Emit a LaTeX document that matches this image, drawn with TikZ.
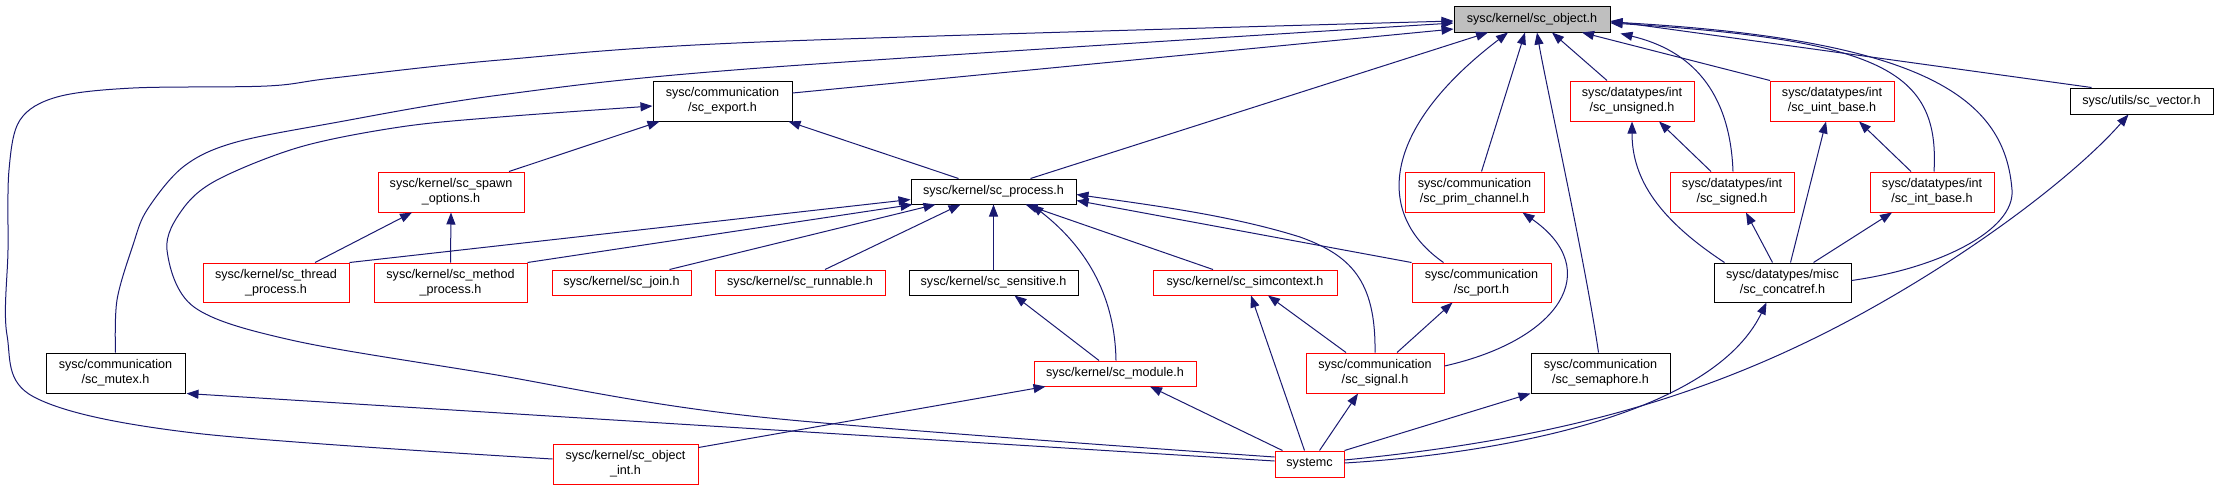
\documentclass[tikz,border=0pt]{standalone}
\usepackage{fontspec}
\setmainfont{Liberation Sans}
\usetikzlibrary{arrows.meta,calc}
\definecolor{edgeblue}{HTML}{191970}
\definecolor{boxred}{HTML}{FF0000}
\definecolor{objgray}{HTML}{BFBFBF}
\begin{document}
\begin{tikzpicture}[x=1pt,y=-1pt,
  box/.style={draw, line width=1pt, inner sep=0pt, align=center, fill=white, font=\fontsize{12.6}{15}\selectfont},
  rbox/.style={box, draw=boxred},
  kbox/.style={box, draw=black},
  gbox/.style={box, draw=black, fill=objgray},
  sz/.style 2 args={minimum width=#1pt, minimum height=#2pt},
  edge/.style={draw=edgeblue, line width=1pt, -{Triangle[length=12pt,width=9pt]}}]
\useasboundingbox (0,0) rectangle (2218,491);
% nodes
\node[gbox, sz={156}{26}] (obj) at (1532,19) {sysc/kernel/sc\_object.h};
\node[kbox, sz={139}{40}] (export) at (722.5,101) {sysc/communication\\/sc\_export.h};
\node[rbox, sz={146}{40}] (spawn) at (451,192) {sysc/kernel/sc\_spawn\\\_options.h};
\node[kbox, sz={165}{25}] (process) at (993.5,191.5) {sysc/kernel/sc\_process.h};
\node[rbox, sz={139}{40}] (prim) at (1474.5,192) {sysc/communication\\/sc\_prim\_channel.h};
\node[rbox, sz={124}{40}] (unsigned) at (1632,101) {sysc/datatypes/int\\/sc\_unsigned.h};
\node[rbox, sz={124}{40}] (uintbase) at (1832,101) {sysc/datatypes/int\\/sc\_uint\_base.h};
\node[kbox, sz={143}{26}] (vector) at (2141.5,101) {sysc/utils/sc\_vector.h};
\node[rbox, sz={124}{40}] (signed) at (1732,192) {sysc/datatypes/int\\/sc\_signed.h};
\node[rbox, sz={124}{40}] (intbase) at (1932,192) {sysc/datatypes/int\\/sc\_int\_base.h};
\node[rbox, sz={146}{39}] (thread) at (276,282.5) {sysc/kernel/sc\_thread\\\_process.h};
\node[rbox, sz={153}{39}] (method) at (450.5,282.5) {sysc/kernel/sc\_method\\\_process.h};
\node[rbox, sz={139}{25}] (join) at (621.5,282.5) {sysc/kernel/sc\_join.h};
\node[rbox, sz={170}{25}] (runnable) at (800,282.5) {sysc/kernel/sc\_runnable.h};
\node[kbox, sz={169}{25}] (sensitive) at (993.5,282.5) {sysc/kernel/sc\_sensitive.h};
\node[rbox, sz={184}{25}] (simcontext) at (1245,282.5) {sysc/kernel/sc\_simcontext.h};
\node[rbox, sz={139}{39}] (port) at (1481.5,282.5) {sysc/communication\\/sc\_port.h};
\node[kbox, sz={137}{39}] (concatref) at (1782.5,282.5) {sysc/datatypes/misc\\/sc\_concatref.h};
\node[kbox, sz={139}{40}] (mutex) at (115.5,373) {sysc/communication\\/sc\_mutex.h};
\node[rbox, sz={162}{25}] (module) at (1115,373.5) {sysc/kernel/sc\_module.h};
\node[rbox, sz={138}{40}] (signal) at (1375,373) {sysc/communication\\/sc\_signal.h};
\node[kbox, sz={139}{40}] (semaphore) at (1600.5,373) {sysc/communication\\/sc\_semaphore.h};
\node[rbox, sz={145}{40}] (objint) at (625.5,464) {sysc/kernel/sc\_object\\\_int.h};
\node[rbox, sz={69}{26}] (systemc) at (1309.5,464) {systemc};
% edges into sc_object.h
\draw[edge] plot[smooth, tension=0.55] coordinates {($(objint.west)+(0,-5)$) (194,433) (34,397) (7,335) (8,250) (9,170) (20,120) (57,97) (133,88) (267,86) (333,78) (500,60) (760,42) ($(obj.west)+(0,2)$)};
\draw[edge] plot[smooth, tension=0.55] coordinates {(mutex.north) (117,300) (133,245) (147,210) (183,167) (233,143) (333,123) (500,95) (760,68) ($(obj.west)+(0,4)$)};
\draw[edge] ($(export.east)+(0,-8)$) -- ($(obj.west)+(0,10)$);
\draw[edge] ($(process.north)+(37,0)$) -- ($(obj.south)+(-44,0)$);
\draw[edge] ($(port.north)+(-38,0)$) .. controls (1375,215) and (1380,130) .. ($(obj.south)+(-24,0)$);
\draw[edge] ($(prim.north)+(7,0)$) -- ($(obj.south)+(-7,0)$);
\draw[edge] ($(semaphore.north)+(-2,0)$) .. controls (1585,260) and (1545,80) .. ($(obj.south)+(5,0)$);
\draw[edge] ($(unsigned.north)+(-25,0)$) -- ($(obj.south)+(20,0)$);
\draw[edge] ($(uintbase.north)+(-62,0)$) -- ($(obj.south)+(50,0)$);
\draw[edge] ($(signed.north)+(1,0)$) .. controls (1730,90) and (1690,50) .. ($(obj.south east)+(10,1)$);
\draw[edge] ($(intbase.north)+(2,0)$) .. controls (1940,70) and (1880,40) .. ($(obj.east)+(0,4)$);
\draw[edge] ($(concatref.east)+(0,-2)$) .. controls (1940,268) and (2015,230) .. (2012,190) .. controls (2005,100) and (1930,40) .. ($(obj.east)+(0,3)$);
\draw[edge] ($(vector.north)+(-50,0)$) -- ($(obj.east)+(0,2)$);
% edges into sc_export.h
\draw[edge] ($(spawn.north)+(58,0)$) -- ($(export.south)+(-63,0)$);
\draw[edge] ($(process.north)+(-35,0)$) -- ($(export.south)+(66,0)$);
\draw[edge] plot[smooth, tension=0.55] coordinates {($(systemc.west)+(0,-7)$) (760,417) (485,373) (291,340) (194,307) (167,250) (182,210) (217,180) (300,147) (400,127) (500,117) ($(export.west)+(0,5)$)};
% edges into sc_spawn_options.h
\draw[edge] ($(thread.north)+(39,0)$) -- ($(spawn.south)+(-39,0)$);
\draw[edge] (method.north) -- (spawn.south);
% edges into sc_process.h
\draw[edge] (thread.north east) -- ($(process.south west)+(0,-5)$);
\draw[edge] (method.north east) -- ($(process.south west)+(2,0)$);
\draw[edge] ($(join.north)+(48,0)$) -- ($(process.south)+(-58,0)$);
\draw[edge] ($(runnable.north)+(25,0)$) -- ($(process.south)+(-33,0)$);
\draw[edge] (sensitive.north) -- (process.south);
\draw[edge] ($(module.north)+(1,0)$) .. controls (1115,300) and (1090,250) .. ($(process.south)+(38,0)$);
\draw[edge] ($(simcontext.north)+(-32,0)$) -- ($(process.south)+(32,0)$);
\draw[edge] (port.north west) -- ($(process.east)+(0,9)$);
\draw[edge] (signal.north) .. controls (1376,280) and (1350,255) .. (1300,237) .. controls (1230,215) and (1150,205) .. ($(process.east)+(0,3)$);
% other edges
\draw[edge] ($(signal.east)+(0,-7)$) .. controls (1560,340) and (1605,270) .. ($(prim.south)+(48,0)$);
\draw[edge] ($(signal.north)+(22,0)$) -- ($(port.south)+(-29,0)$);
\draw[edge] ($(signal.north)+(-29,0)$) -- ($(simcontext.south)+(23,0)$);
\draw[edge] ($(systemc.north)+(-5,0)$) -- ($(simcontext.south)+(6,0)$);
\draw[edge] ($(module.north)+(-16,0)$) -- ($(sensitive.south)+(21,0)$);
\draw[edge] ($(objint.north east)+(0,4)$) -- ($(module.south west)+(12,0)$);
\draw[edge] ($(systemc.north west)+(8,0)$) -- ($(module.south)+(35,0)$);
\draw[edge] ($(systemc.north)+(10,0)$) -- ($(signal.south)+(-17,0)$);
\draw[edge] ($(systemc.west)+(0,-3)$) -- ($(mutex.south east)+(1,0)$);
\draw[edge] (systemc.north east) -- (semaphore.south west);
\draw[edge] ($(systemc.east)+(0,-1)$) .. controls (1480,455) and (1710,420) .. ($(concatref.south)+(-16,0)$);
\draw[edge] ($(systemc.east)+(0,-4)$) .. controls (1550,440) and (1700,400) .. (1850,320) .. controls (1980,250) and (2080,170) .. ($(vector.south)+(-13,0)$);
\draw[edge] ($(signed.north)+(-21,0)$) -- ($(unsigned.south)+(27,0)$);
\draw[edge] ($(concatref.north west)+(11,0)$) .. controls (1660,220) and (1632,180) .. (unsigned.south);
\draw[edge] ($(concatref.north)+(-10,0)$) -- ($(signed.south)+(14,0)$);
\draw[edge] ($(concatref.north)+(8,0)$) -- ($(uintbase.south)+(-6,0)$);
\draw[edge] ($(intbase.north)+(-21,0)$) -- ($(uintbase.south)+(27,0)$);
\draw[edge] ($(concatref.north)+(31,0)$) -- ($(intbase.south)+(-40,0)$);
\end{tikzpicture}
\end{document}
